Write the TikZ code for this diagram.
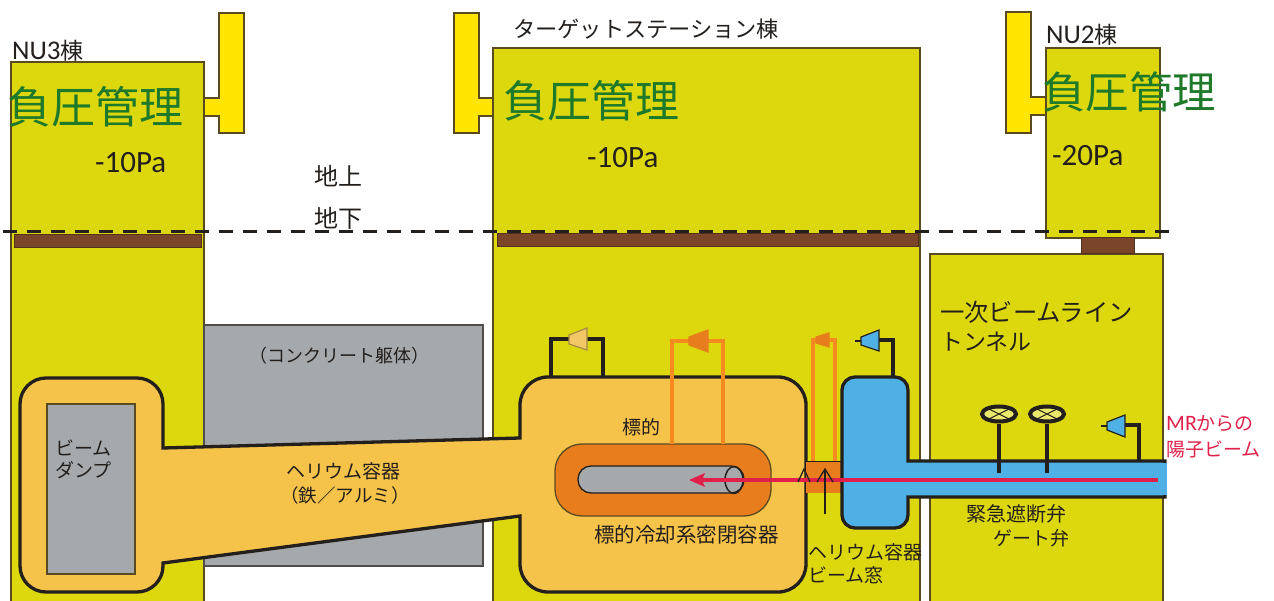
\documentclass[tikz,border=0pt]{standalone}
\usepackage{fontspec}
\usetikzlibrary{shapes.geometric}
\setmainfont{Noto Sans CJK JP}
\newfontfamily\latn{Carlito}
\definecolor{bldg}{HTML}{DDD80E}
\definecolor{tee}{HTML}{FFE500}
\definecolor{edgec}{HTML}{5A4A20}
\definecolor{brownc}{HTML}{7A4528}
\definecolor{hev}{HTML}{F5C24A}
\definecolor{greyc}{HTML}{A6A9AB}
\definecolor{orc}{HTML}{E87D1E}
\definecolor{orp}{HTML}{F58A20}
\definecolor{bluec}{HTML}{4FB0E5}
\definecolor{greenc}{HTML}{1E7A2A}
\definecolor{inkc}{HTML}{231F1C}
\definecolor{redc}{HTML}{E0204A}
\definecolor{pumpy}{HTML}{F2C766}
\newcommand{\fs}[1]{\fontsize{#1}{#1}\selectfont}
\tikzset{
  bldgbox/.style={fill=bldg,draw=edgec,line width=1.3pt},
  teebox/.style={fill=tee,draw=edgec,line width=1.3pt},
  strip/.style={fill=brownc,draw=brownc!70!black,line width=1pt},
  hepipe/.style={draw=inkc,line width=3.3pt},
  orpipe/.style={draw=orp,line width=3.6pt},
  lbl/.style={text=inkc,inner sep=0pt,anchor=west,font=\fs{19}},
  bigl/.style={text=greenc,inner sep=0pt,anchor=west,font=\fs{44}},
  pal/.style={text=inkc,inner sep=0pt,anchor=west,font=\latn\fs{31}},
  pumpshape/.style={line width=1.2pt,fill=#1},
  valve/.style={ellipse,draw=inkc,line width=4pt,fill=bldg!60!white,minimum width=34pt,minimum height=15pt,inner sep=0pt},
}
\begin{document}
\begin{tikzpicture}[x=1pt,y=-1pt,line join=miter]
\useasboundingbox (0,0) rectangle (1274,601);
\fill[white] (0,0) rectangle (1274,601);
\begin{scope}
\clip (0,0) rectangle (1274,601);
% ventilation tees
\draw[teebox] (204,98) -- (219,98) -- (219,13) -- (244,13) -- (244,133) -- (219,133) -- (219,116) -- (204,116);
\draw[teebox] (493,98) -- (479,98) -- (479,13) -- (454,13) -- (454,133) -- (479,133) -- (479,116) -- (493,116);
\draw[teebox] (1046,97) -- (1031,97) -- (1031,12) -- (1006,12) -- (1006,133) -- (1031,133) -- (1031,115) -- (1046,115);
% buildings
\draw[bldgbox] (11,62) rectangle (204,610);
\draw[bldgbox] (493,48) rectangle (920,610);
\draw[bldgbox] (1046,48) rectangle (1160,238);
\draw[bldgbox] (930,254) rectangle (1163,610);
% ground level
\draw[strip] (14,235) rectangle (201,248);
\draw[strip] (497,234) rectangle (918,247);
\draw[strip] (1081,238) rectangle (1134,254);
\coordinate (gl) at (3,232);
\coordinate (gr) at (1178,232);
\draw[draw=inkc,line width=3pt,dash pattern=on 14pt off 10pt] (gl) -- (gr);
% concrete
\draw[fill=greyc,draw=inkc!80,line width=1.3pt] (204,325) rectangle (483,566);
% helium vessel
\draw[hepipe,fill=hev] (163,448) [rounded corners=26pt] -- (163,378) -- (20,378) -- (20,592) -- (163,592) [sharp corners] -- (163,563) -- (520,516)
  [rounded corners=28pt] -- (520,592) -- (806,592) -- (806,377) -- (520,377) [sharp corners] -- (520,438) -- cycle;
\draw[fill=greyc,draw=edgec,line width=1.6pt] (47,404) rectangle (135,574);
% target
\draw[fill=orc,draw=edgec,line width=1.3pt,rounded corners=27pt] (555,444) rectangle (771,516);
\draw[fill=greyc,draw=inkc,line width=1.3pt,rounded corners=13pt] (578,466) rectangle (744,493);
\node[ellipse,draw=inkc,line width=1.5pt,minimum width=18pt,minimum height=27pt,inner sep=0pt] (cyl) at (734,480) {};
% window box
\draw[fill=orc,draw=none] (806,461) rectangle (842,493);
\draw[draw=inkc,line width=1pt] (806,461) -- (842,461);
% blue vessel
\draw[hepipe,fill=bluec] (908,461) [rounded corners=13pt] -- (908,377) -- (842,377) -- (842,528) -- (908,528) [sharp corners] -- (908,497) -- (1165,497) -- (1165,461) -- cycle;
\fill[bluec] (1160,463) rectangle (1167,495);
% pipes with pumps
\draw[hepipe] (551,377) -- (551,339) -- (603,339) -- (603,377);
\draw[pumpshape=pumpy,draw=edgec!50!pumpy] (569,335) -- (587,328) -- (587,350) -- (569,344) -- cycle;
\draw[orpipe] (672,444) -- (672,341) -- (723,341) -- (723,444);
\draw[pumpshape=orc,draw=orc] (689,337) -- (708,330) -- (708,352) -- (689,345) -- cycle;
\draw[orpipe] (813,461) -- (813,340) -- (835,340) -- (835,461);
\draw[pumpshape=orc,draw=orc] (816,337) -- (829,333) -- (829,347) -- (816,343) -- cycle;
\draw[hepipe] (893,377) -- (893,340) -- (878,340);
\draw[hepipe,line width=2.4pt] (861,341) -- (855,341);
\draw[pumpshape=bluec,draw=inkc] (861,337) -- (879,330) -- (879,351) -- (861,345) -- cycle;
\draw[hepipe] (1139,461) -- (1139,425) -- (1125,425);
\draw[hepipe,line width=2.4pt] (1107,426) -- (1101,426);
\draw[pumpshape=bluec,draw=inkc] (1107,422) -- (1125,415) -- (1125,437) -- (1107,430) -- cycle;
% valves
\node[valve] (v1) at (999,414) {};
\node[valve] (v2) at (1047,414) {};
\draw[draw=inkc,line width=1pt] (v1.north west) -- (v1.south east) (v1.north east) -- (v1.south west);
\draw[draw=inkc,line width=1pt] (v2.north west) -- (v2.south east) (v2.north east) -- (v2.south west);
\coordinate (v1b) at (999,473);
\coordinate (v2b) at (1047,473);
\draw[draw=inkc,line width=3.6pt] (v1.south) -- (v1b);
\draw[draw=inkc,line width=3.6pt] (v2.south) -- (v2b);
% beam
\coordinate (bs) at (1158,480);
\coordinate (be) at (702,480);
\draw[draw=redc,line width=3.4pt] (bs) -- (be);
\fill[redc] (689,480) -- (705,473) -- (702,480) -- (705,487) -- cycle;
% window arrows
\draw[draw=inkc,line width=1.3pt] (825,514) -- (825,469);
\draw[draw=inkc,line width=1.3pt] (817,482) -- (825,469) -- (833,482);
\draw[draw=inkc,line width=1.3pt] (798,482) -- (804,469) -- (810,482);
\end{scope}
% text
\node[lbl,font=\fs{23}] (nu3) at (12,51) {{\latn\fs{27}NU3}棟};
\node[lbl,font=\fs{22.2}] (ts) at (513,29) {ターゲットステーション棟};
\node[lbl,font=\fs{23}] (nu2) at (1046,35) {{\latn\fs{27}NU2}棟};
\node[bigl] (n1) at (7,107) {負圧管理};
\node[bigl] (n2) at (503,101) {負圧管理};
\node[bigl,font=\fs{43.5}] (n3) at (1042,92) {負圧管理};
\node[pal] (p1) at (95,163) {-10Pa};
\node[pal] (p2) at (587,158) {-10Pa};
\node[pal] (p3) at (1052,156) {-20Pa};
\node[lbl,font=\fs{24}] (up) at (314,176) {地上};
\node[lbl,font=\fs{24}] (dn) at (314,218) {地下};
\node[lbl,font=\fs{18}] (conc) at (249,356) {（コンクリート躯体）};
\node[lbl] (d1) at (55,448) {ビーム};
\node[lbl] (d2) at (55,470) {ダンプ};
\node[lbl] (h1) at (286,471) {ヘリウム容器};
\node[lbl,font=\fs{18.5}] (h2) at (280,495) {（鉄／アルミ）};
\node[lbl] (t1) at (622,427) {標的};
\node[lbl,font=\fs{20.5}] (t2) at (594,535) {標的冷却系密閉容器};
\node[lbl] (w1) at (808,552) {ヘリウム容器};
\node[lbl] (w2) at (808,575) {ビーム窓};
\node[lbl,font=\fs{24.3}] (l1) at (940,312) {一次ビームライン};
\node[lbl,font=\fs{23}] (l2) at (940,342) {トンネル};
\node[lbl,font=\fs{20}] (k1) at (966,514) {緊急遮断弁};
\node[lbl,font=\fs{19}] (k2) at (993,538) {ゲート弁};
\node[lbl,text=redc,font=\fs{19}] (m1) at (1166,424) {{\latn\fs{22}MR}からの};
\node[lbl,text=redc,font=\fs{19}] (m2) at (1166,449) {陽子ビーム};
\end{tikzpicture}
\end{document}
